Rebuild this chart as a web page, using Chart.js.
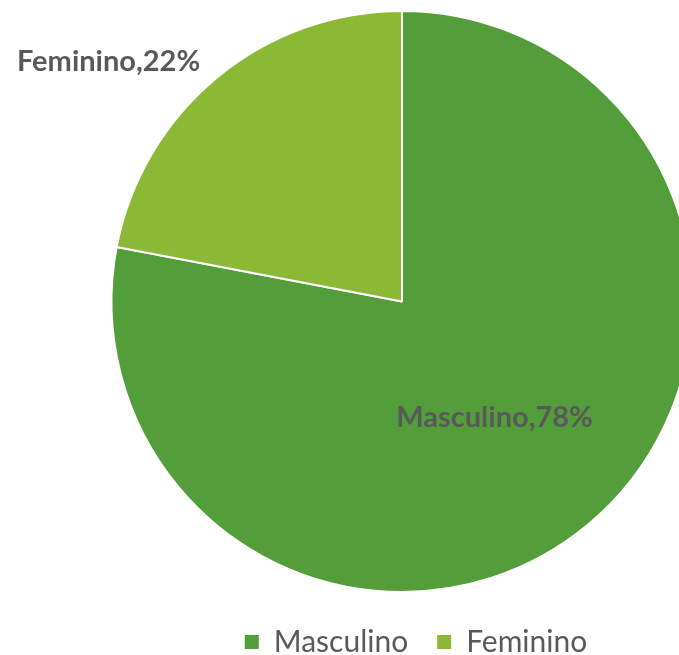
<!DOCTYPE html>
<html>
<head>
<meta charset="utf-8">
<script src="https://cdn.jsdelivr.net/npm/chart.js@4/dist/chart.umd.min.js"></script>
<style>
  html, body { margin: 0; padding: 0; background: #ffffff; overflow: hidden; }
  #wrap { width: 679px; height: 655px; overflow: hidden; position: relative; }
  #c { position: absolute; left: 0; top: 0; }
</style>
</head>
<body>
<div id="wrap"><canvas id="c" width="832" height="667" style="width:832px;height:667px"></canvas></div>
<script>
const categories = ['Masculino', 'Feminino'];
const values = [78, 22];
const colors = ['#539E3B', '#8BB935'];

const labelFont = '700 29px Lato';
const textColor = '#595959';

const dataLabels = {
  id: 'dataLabels',
  afterDatasetsDraw(chart) {
    const meta = chart.getDatasetMeta(0);
    const ctx = chart.ctx;
    ctx.save();
    ctx.font = labelFont;
    ctx.fillStyle = textColor;
    ctx.textAlign = 'center';
    ctx.textBaseline = 'middle';
    meta.data.forEach((arc, i) => {
      const text = categories[i] + ',' + values[i] + '%';
      let x, y;
      if (i === 0) {
        const p = arc.tooltipPosition();
        x = p.x; y = p.y + 4;
      } else {
        const r = arc.outerRadius;
        x = arc.x - r * 1.01;
        y = arc.y - r * 0.825;
      }
      ctx.fillText(text, x, y);
    });
    ctx.restore();
  }
};

new Chart(document.getElementById('c'), {
  type: 'pie',
  data: {
    labels: categories,
    datasets: [{
      data: values,
      backgroundColor: colors,
      borderColor: '#ffffff',
      borderWidth: 2
    }]
  },
  options: {
    responsive: false,
    animation: false,
    devicePixelRatio: 1,
    layout: { padding: { top: 10 } },
    plugins: {
      tooltip: { enabled: false },
      title: {
        display: true,
        position: 'right',
        text: '',
        padding: 9,
        font: { size: 10, lineHeight: 1 }
      },
      legend: {
        position: 'bottom',
        title: { display: true, text: '', padding: 0, font: { size: 5, lineHeight: 1 } },
        labels: {
          boxWidth: 14,
          boxHeight: 14,
          padding: 29,
          color: textColor,
          font: { family: 'Lato', size: 30 },
          generateLabels(chart) {
            return Chart.overrides.pie.plugins.legend.labels.generateLabels(chart)
              .map(l => Object.assign(l, { lineWidth: 0, strokeStyle: l.fillStyle }));
          }
        }
      }
    }
  },
  plugins: [dataLabels]
});
</script>
</body>
</html>
